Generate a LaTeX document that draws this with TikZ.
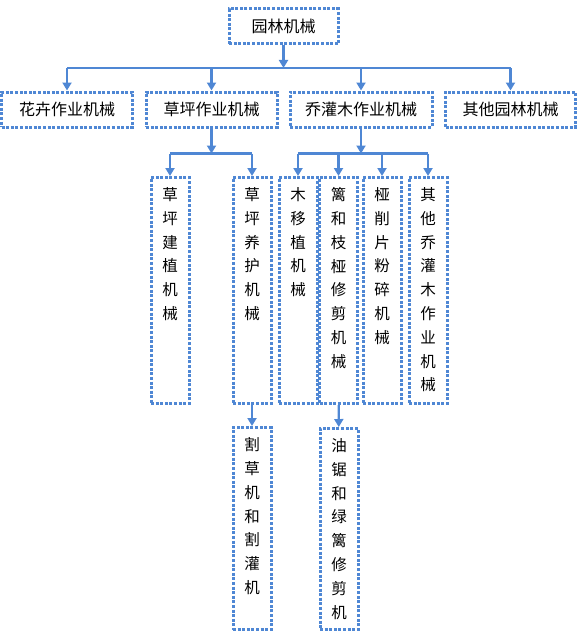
\documentclass[tikz,border=0pt]{standalone}
\usepackage{fontspec}
\setmainfont{Noto Sans CJK SC}
\usetikzlibrary{arrows.meta}
\definecolor{lineblue}{RGB}{79,135,212}
% vertical column of characters, top aligned in a box of fixed height
\newcommand{\colstack}[2]{\parbox[c][#1][t]{18pt}{\centering\fontsize{15.5pt}{23.8pt}\selectfont #2}}

\begin{document}
\begin{tikzpicture}[x=1pt,y=-1pt,>={Triangle[width=9pt,length=8pt]},
    dotbox/.style={draw=lineblue, line width=3pt, dash pattern=on 3pt off 1.6pt,
        font=\fontsize{16pt}{18pt}\selectfont},
    colbox/.style={dotbox, minimum width=38pt, inner xsep=0pt, inner ysep=10pt, anchor=north},
    link/.style={draw=lineblue, line width=2.3pt}]
    \useasboundingbox (0,0) rectangle (577,634);
    % top level
    \node (top) [dotbox, minimum width=109pt, minimum height=35pt] at (283.5,26.5) {园林机械};
    % second level
    \node (flower) [dotbox, minimum width=131pt, minimum height=35pt] at (67,109.5) {花卉作业机械};
    \node (lawn) [dotbox, minimum width=131pt, minimum height=35pt] at (211.5,109.5) {草坪作业机械};
    \node (shrub) [dotbox, minimum width=142pt, minimum height=35pt] at (361,109.5) {乔灌木作业机械};
    \node (other) [dotbox, minimum width=130pt, minimum height=35pt] at (510.5,109.5) {其他园林机械};
    % third level
    \node (lawnA) [colbox] at (170,176) {\colstack{206pt}{草\\坪\\建\\植\\机\\械}};
    \node (lawnB) [colbox] at (252,176) {\colstack{206pt}{草\\坪\\养\\护\\机\\械}};
    \node (shA) [colbox] at (298,176) {\colstack{206pt}{木\\移\\植\\机\\械}};
    \node (shB) [colbox] at (338.5,176) {\colstack{206pt}{篱\\和\\枝\\桠\\修\\剪\\机\\械}};
    \node (shC) [colbox] at (382,176) {\colstack{206pt}{桠\\削\\片\\粉\\碎\\机\\械}};
    \node (shD) [colbox] at (428,176) {\colstack{206pt}{其\\他\\乔\\灌\\木\\作\\业\\机\\械}};
    % fourth level
    \node (mow) [colbox] at (252,426) {\colstack{182pt}{割\\草\\机\\和\\割\\灌\\机}};
    \node (saw) [colbox] at (339,427) {\colstack{181pt}{油\\锯\\和\\绿\\篱\\修\\剪\\机}};
    % buses
    \coordinate (bus1) at (283.5,68);
    \coordinate (bus2) at ([yshift=-25pt]lawn.south);
    \coordinate (bus3) at ([yshift=-25pt]shrub.south);
    \draw[link,->] (top) -- (bus1);
    \draw[link] (flower.north |- bus1) -- (other.north |- bus1);
    \foreach \n in {flower,lawn,shrub,other}
        \draw[link,->] (\n.north |- bus1) -- (\n.north);
    \draw[link,->] (lawn) -- (bus2);
    \draw[link] (lawnA.north |- bus2) -- (lawnB.north |- bus2);
    \foreach \n in {lawnA,lawnB}
        \draw[link,->] (\n.north |- bus2) -- (\n.north);
    \draw[link,->] (shrub) -- (bus3);
    \draw[link] (shA.north |- bus3) -- (shD.north |- bus3);
    \foreach \n in {shA,shB,shC,shD}
        \draw[link,->] (\n.north |- bus3) -- (\n.north);
    \draw[link,->] (lawnB) -- (mow);
    \draw[link,->] (shB) -- (saw);
\end{tikzpicture}
\end{document}
